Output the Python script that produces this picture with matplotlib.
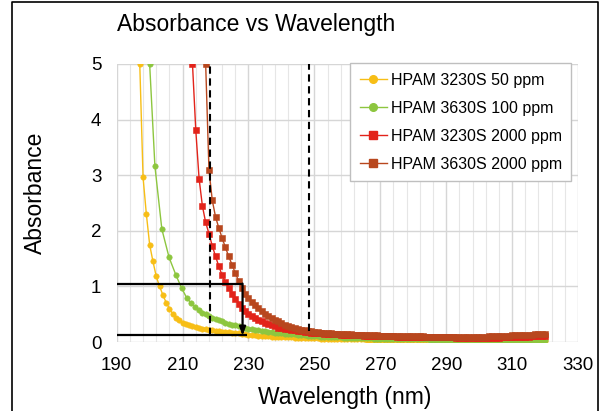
import numpy as np
import matplotlib

matplotlib.use("Agg")
import matplotlib.pyplot as plt
from matplotlib.lines import Line2D

plt.rcParams["font.family"] = ["Liberation Sans", "DejaVu Sans"]

# --- data ------------------------------------------------------------------
labels = [
    "HPAM 3230S 50 ppm",
    "HPAM 3630S 100 ppm",
    "HPAM 3230S 2000 ppm",
    "HPAM 3630S 2000 ppm",
]

# HPAM 3230S 50 ppm, 197..320 nm
y50_nm = np.arange(197, 321)
y50 = [
    5.0, 2.96, 2.30, 1.75, 1.45, 1.18, 1.00, 0.85, 0.71, 0.60,
    0.51, 0.44, 0.39, 0.35, 0.32, 0.30, 0.285, 0.27, 0.255, 0.24,
    0.23, 0.22, 0.21, 0.20, 0.19, 0.185, 0.18, 0.175, 0.17, 0.165,
    0.16, 0.15, 0.14, 0.13, 0.125, 0.12, 0.115, 0.11, 0.105, 0.10,
    0.098, 0.095, 0.092, 0.09, 0.088, 0.085, 0.082, 0.08, 0.078, 0.075,
    0.073, 0.07, 0.068, 0.066, 0.064, 0.062, 0.06, 0.058, 0.056, 0.055,
    0.054, 0.053, 0.052, 0.05, 0.049, 0.048, 0.047, 0.046, 0.045, 0.044,
    0.043, 0.042, 0.041, 0.04, 0.04, 0.039, 0.038, 0.038, 0.037, 0.036,
    0.036, 0.035, 0.035, 0.034, 0.034, 0.033, 0.033, 0.032, 0.032, 0.031,
    0.031, 0.03, 0.03, 0.03, 0.029, 0.029, 0.028, 0.028, 0.028, 0.027,
    0.027, 0.027, 0.026, 0.026, 0.026, 0.025, 0.025, 0.025, 0.025, 0.024,
    0.024, 0.024, 0.024, 0.023, 0.023, 0.023, 0.023, 0.022, 0.022, 0.022,
    0.022, 0.022, 0.021, 0.021,
]

# HPAM 3630S 100 ppm: sparse head, then 216..320 nm
g100_nm = [200, 201.6, 203.7, 205.9, 208, 209.7, 211.2, 212.5, 213.8, 215] + list(range(216, 321))
g100 = [
    5.0, 3.16, 2.03, 1.52, 1.20, 0.97, 0.80, 0.70, 0.63, 0.57,
    0.53, 0.50, 0.47, 0.44, 0.41, 0.39, 0.37, 0.35, 0.33, 0.31,
    0.30, 0.28, 0.27, 0.25, 0.24, 0.23, 0.22, 0.21, 0.20, 0.19,
    0.18, 0.175, 0.17, 0.16, 0.155, 0.15, 0.145, 0.14, 0.135, 0.13,
    0.125, 0.12, 0.115, 0.11, 0.105, 0.10, 0.098, 0.095, 0.092, 0.09,
    0.087, 0.085, 0.082, 0.08, 0.078, 0.076, 0.074, 0.072, 0.07, 0.068,
    0.066, 0.064, 0.062, 0.06, 0.058, 0.057, 0.056, 0.055, 0.054, 0.053,
    0.052, 0.051, 0.05, 0.049, 0.048, 0.047, 0.046, 0.045, 0.045, 0.044,
    0.044, 0.043, 0.043, 0.042, 0.042, 0.041, 0.041, 0.04, 0.04, 0.04,
    0.039, 0.039, 0.039, 0.038, 0.038, 0.038, 0.037, 0.037, 0.037, 0.037,
    0.036, 0.036, 0.036, 0.036, 0.035, 0.035, 0.035, 0.035, 0.035, 0.034,
    0.034, 0.034, 0.034, 0.034, 0.034,
]

# HPAM 3230S 2000 ppm, 213..320 nm
r2000_nm = np.arange(213, 321)
r2000 = [
    5.0, 3.81, 2.94, 2.45, 2.15, 1.95, 1.73, 1.54, 1.36, 1.20,
    1.08, 0.97, 0.87, 0.78, 0.69, 0.62, 0.56, 0.51, 0.47, 0.43,
    0.40, 0.37, 0.34, 0.32, 0.30, 0.28, 0.26, 0.25, 0.24, 0.23,
    0.22, 0.21, 0.20, 0.19, 0.18, 0.175, 0.17, 0.165, 0.16, 0.155,
    0.15, 0.145, 0.14, 0.138, 0.135, 0.132, 0.13, 0.128, 0.125, 0.122,
    0.12, 0.118, 0.116, 0.114, 0.112, 0.11, 0.108, 0.106, 0.104, 0.102,
    0.10, 0.099, 0.098, 0.097, 0.096, 0.095, 0.094, 0.093, 0.092, 0.091,
    0.09, 0.089, 0.088, 0.087, 0.086, 0.085, 0.084, 0.083, 0.082, 0.081,
    0.08, 0.079, 0.078, 0.078, 0.077, 0.077, 0.076, 0.076, 0.076, 0.076,
    0.077, 0.078, 0.079, 0.08, 0.082, 0.084, 0.086, 0.088, 0.09, 0.092,
    0.094, 0.096, 0.098, 0.10, 0.10, 0.10, 0.10, 0.10,
]

# HPAM 3630S 2000 ppm, 217..320 nm
b2000_nm = np.arange(217, 321)
b2000 = [
    5.0, 3.10, 2.55, 2.25, 2.05, 1.87, 1.70, 1.54, 1.39, 1.24,
    1.10, 0.98, 0.87, 0.79, 0.72, 0.66, 0.61, 0.56, 0.51, 0.47,
    0.44, 0.40, 0.37, 0.34, 0.31, 0.29, 0.27, 0.25, 0.235, 0.22,
    0.21, 0.20, 0.19, 0.18, 0.175, 0.17, 0.165, 0.16, 0.155, 0.15,
    0.147, 0.144, 0.141, 0.138, 0.135, 0.132, 0.13, 0.128, 0.126, 0.124,
    0.122, 0.12, 0.118, 0.116, 0.114, 0.112, 0.11, 0.108, 0.107, 0.106,
    0.105, 0.104, 0.103, 0.102, 0.101, 0.10, 0.099, 0.098, 0.097, 0.096,
    0.095, 0.094, 0.093, 0.092, 0.091, 0.09, 0.09, 0.09, 0.09, 0.09,
    0.091, 0.092, 0.093, 0.094, 0.096, 0.098, 0.10, 0.102, 0.105, 0.108,
    0.11, 0.113, 0.116, 0.119, 0.122, 0.125, 0.128, 0.13, 0.132, 0.134,
    0.135, 0.136, 0.137, 0.138,
]

# reference marks drawn on the chart
cutoff_nm = [218.3, 248.5]
box_nm = 228.2
box_abs = (0.13, 1.04)

x_ticks = np.arange(190, 331, 20)
x_minor = np.arange(190, 331, 4)
y_ticks = np.arange(0, 6)

colors = ["#F7BE16", "#8DC63F", "#E2231A", "#B8471E"]
markers = ["o", "o", "s", "s"]
msizes = [3.9, 3.9, 4.2, 4.2]

# --- figure -----------------------------------------------------------------
fig = plt.figure(figsize=(6.04, 4.11), dpi=100)
ax = fig.add_axes([116.7 / 604, 69 / 411, (578 - 116.7) / 604, (342 - 64) / 411])

series = [(y50_nm, y50), (g100_nm, g100), (r2000_nm, r2000), (b2000_nm, b2000)]
for (xs, ys), c, m, ms, lab in zip(series, colors, markers, msizes, labels):
    ax.plot(xs, ys, color=c, marker=m, markersize=ms, markeredgewidth=0.4,
            markeredgecolor=c, linewidth=1.0, label=lab, zorder=3)

# dashed cut-off lines
ax.vlines(cutoff_nm[0], 0.12, 5, colors="black", linestyles=(0, (3.5, 2.2)),
          linewidth=1.5, zorder=5)
ax.vlines(cutoff_nm[1], 0.2, 5, colors="black", linestyles=(0, (3.5, 2.2)),
          linewidth=1.5, zorder=5)

# box + arrow
ax.plot([190, box_nm], [box_abs[1], box_abs[1]], color="black", lw=1.6, zorder=6,
        solid_capstyle="butt")
ax.plot([190, box_nm + 1.3], [box_abs[0], box_abs[0]], color="black", lw=1.6, zorder=6,
        solid_capstyle="butt")
ax.annotate("", xy=(box_nm, box_abs[0] - 0.02), xytext=(box_nm, box_abs[1] + 0.01),
            arrowprops=dict(arrowstyle="-|>,head_length=0.5,head_width=0.18",
                            color="black", lw=1.6, shrinkA=0, shrinkB=0),
            zorder=6)

ax.set_xlim(190, 330)
ax.set_ylim(0, 5)
ax.set_xticks(x_ticks)
ax.set_xticks(x_minor, minor=True)
ax.set_yticks(y_ticks)
ax.grid(which="major", color="#D6D6D6", linewidth=1.0, zorder=0)
ax.grid(which="minor", axis="x", color="#E6E6E6", linewidth=0.8, zorder=0)
ax.set_axisbelow(True)
for s in ax.spines.values():
    s.set_visible(False)
ax.tick_params(which="both", length=0, labelsize=13.5, pad=11)

ax.set_xlabel("Wavelength (nm)", fontsize=16.5, va="center")
ax.set_ylabel("Absorbance", fontsize=16.5, va="center")
ax.xaxis.set_label_coords(0.495, -0.198)
ax.yaxis.set_label_coords(-0.177, 0.536)
fig.text(256 / 604, 1 - 24 / 411, "Absorbance vs Wavelength", fontsize=16.5,
         ha="center", va="center")

handles = [Line2D([], [], color=c, marker=m, markersize=5.5, lw=1.0) for c, m in zip(colors, markers)]
leg = ax.legend(handles, labels, loc="upper left", bbox_to_anchor=(350 / 604, 1 - 63 / 411),
                bbox_transform=fig.transFigure, fontsize=11.5, frameon=True, fancybox=False,
                edgecolor="#BFBFBF", framealpha=1, labelspacing=0.82, handlelength=1.7,
                handletextpad=0.25, borderpad=0.6, borderaxespad=0)
leg.get_frame().set_linewidth(1.0)
leg.set_zorder(10)

# outer frame of the figure
fig.add_artist(Line2D([12 / 604, 12 / 604, 598 / 604, 598 / 604], [0, 1 - 2 / 411, 1 - 2 / 411, 0],
                      color="black", lw=1.2, transform=fig.transFigure))

fig.savefig("out.png", dpi=100)
